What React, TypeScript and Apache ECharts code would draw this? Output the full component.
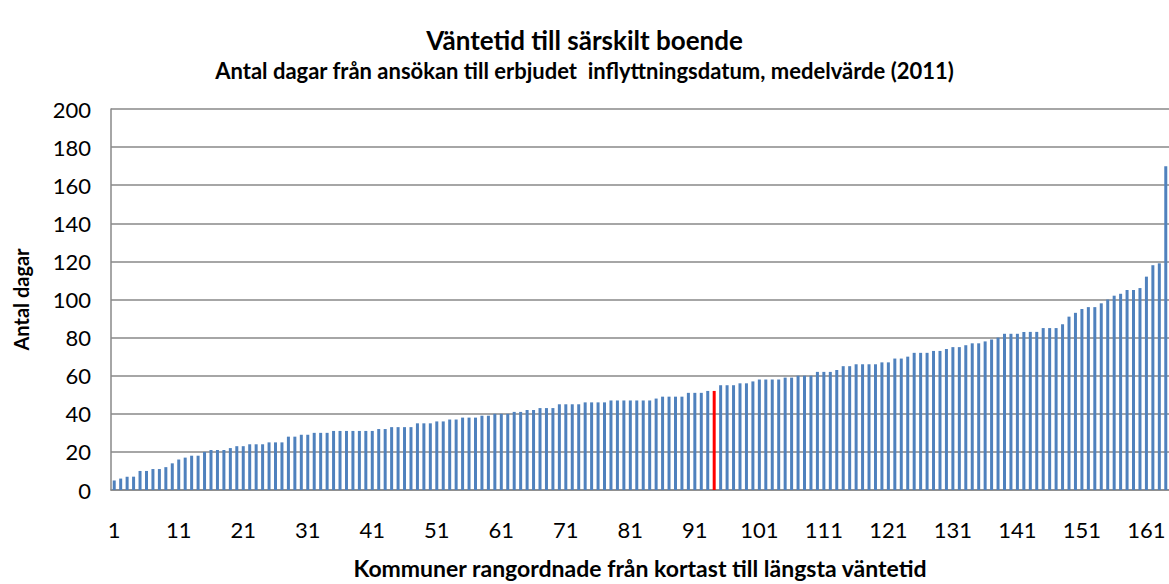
import React, { useEffect, useRef } from "react";
import * as echarts from "echarts";

const titleText = "Väntetid till särskilt boende";
const subtitleText = "Antal dagar från ansökan till erbjudet  inflyttningsdatum, medelvärde (2011)";
const yAxisName = "Antal dagar";
const xAxisName = "Kommuner rangordnade från kortast till längsta väntetid";

const waitDays: number[] = [
  5, 6, 7, 7, 10, 10, 11, 11, 12, 14,
  16, 17, 18, 18, 20, 21, 21, 21, 22, 23,
  23, 24, 24, 24, 25, 25, 25, 28, 28, 29,
  29, 30, 30, 30, 31, 31, 31, 31, 31, 31,
  31, 32, 32, 33, 33, 33, 33, 35, 35, 35,
  36, 36, 37, 37, 38, 38, 38, 39, 39, 40,
  40, 40, 41, 41, 42, 42, 43, 43, 43, 45,
  45, 45, 45, 46, 46, 46, 46, 47, 47, 47,
  47, 47, 47, 47, 48, 49, 49, 49, 49, 51,
  51, 51, 52, 52, 55, 55, 55, 56, 56, 57,
  58, 58, 58, 58, 59, 59, 60, 60, 60, 62,
  62, 62, 63, 65, 65, 66, 66, 66, 66, 67,
  67, 69, 69, 70, 72, 72, 72, 73, 73, 74,
  75, 75, 76, 77, 77, 78, 79, 80, 82, 82,
  82, 83, 83, 83, 85, 85, 85, 87, 91, 93,
  95, 96, 96, 98, 100, 102, 103, 105, 105, 106,
  112, 118, 119, 170,
];

// 1-based rank of the highlighted (red) municipality
const highlightRank = 94;

const categories: string[] = waitDays.map((_, i) => String(i + 1));

const yMin = 0;
const yMax = 200;
const yInterval = 20;

export default function App() {
  const ref = useRef<HTMLDivElement>(null);

  useEffect(() => {
    document.body.style.margin = "0";
    if (!ref.current) return;
    const chart = echarts.init(ref.current, null, { renderer: "svg" });
    const font = "Lato, 'Open Sans', sans-serif";
    const gridColor = "#888888";

    chart.setOption({
      animation: false,
      backgroundColor: "#ffffff",
      textStyle: { fontFamily: font },
      title: [
        {
          text: titleText,
          left: "center",
          top: 22,
          textStyle: { fontFamily: font, fontSize: 26, fontWeight: "bold", color: "#000" },
        },
        {
          text: subtitleText,
          left: "center",
          top: 54,
          textStyle: { fontFamily: font, fontSize: 22, fontWeight: "bold", color: "#000" },
        },
      ],
      grid: { left: 111, top: 109, width: 1061, bottom: 88, containLabel: false },
      xAxis: {
        type: "category",
        data: categories,
        name: xAxisName,
        nameLocation: "middle",
        nameGap: 66,
        nameTextStyle: { fontFamily: font, fontSize: 23, fontWeight: "bold", color: "#000" },
        axisLine: { lineStyle: { color: gridColor, width: 1.5 } },
        axisTick: { show: false },
        axisLabel: { interval: 9, color: "#000", fontSize: 22, margin: 28, fontFamily: font },
        splitLine: { show: false },
      },
      yAxis: {
        type: "value",
        min: yMin,
        max: yMax,
        interval: yInterval,
        name: yAxisName,
        nameLocation: "middle",
        nameRotate: 90,
        nameGap: 80,
        nameTextStyle: { fontFamily: font, fontSize: 20, fontWeight: "bold", color: "#000" },
        axisLine: { show: true, lineStyle: { color: gridColor, width: 1.5 } },
        axisTick: { show: false },
        axisLabel: { color: "#000", fontSize: 22, margin: 20, fontFamily: font },
        splitLine: { show: true, lineStyle: { color: gridColor, width: 1.5 } },
      },
      series: [
        {
          type: "bar",
          barWidth: 3,
          data: waitDays.map((v, i) =>
            i + 1 === highlightRank
              ? { value: v, itemStyle: { color: "#ff0000" } }
              : { value: v }
          ),
          itemStyle: { color: "#4f81bd" },
        },
      ],
    });

    return () => chart.dispose();
  }, []);

  return <div ref={ref} style={{ width: 1169, height: 584 }} />;
}
